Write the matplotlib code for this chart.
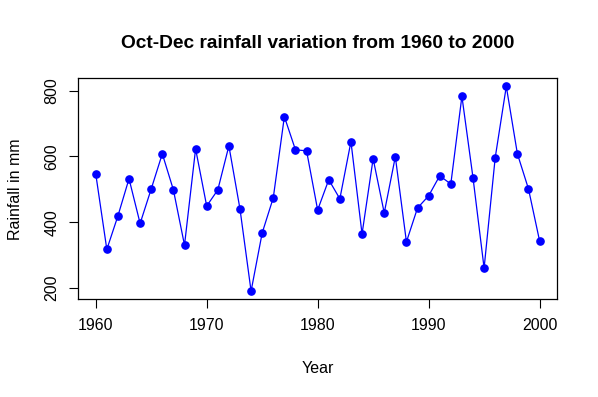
import matplotlib
matplotlib.use("Agg")
import matplotlib.pyplot as plt
import numpy as np

# Oct-Dec rainfall (mm)
years = np.arange(1960, 2001)
rainfall = [
    547, 317, 419, 532, 396, 501, 608, 498, 330, 623,
    449, 498, 632, 440, 190, 367, 474, 721, 620, 617,
    437, 529, 471, 645, 364, 593, 428, 599, 340, 443,
    480, 541, 516, 783, 535, 260, 596, 813, 608, 501,
    343,
]
x_ticks = [1960, 1970, 1980, 1990, 2000]
y_ticks = [200, 400, 600, 800]

plt.rcParams["font.family"] = ["Liberation Sans", "DejaVu Sans"]

fig = plt.figure(figsize=(5.98, 3.97), dpi=100)
ax = fig.add_axes([0.1304, 0.246, 0.932 - 0.1304, 0.803 - 0.246])

ax.plot(years, rainfall, color="blue", linewidth=0.9,
        marker="o", markersize=5.2, markerfacecolor="blue",
        markeredgecolor="blue")

# R-style 4% padding around the data range
yr = max(rainfall) - min(rainfall)
ax.set_ylim(min(rainfall) - 0.04 * yr, max(rainfall) + 0.04 * yr)
ax.set_xlim(1960 - 0.04 * 40, 2000 + 0.04 * 40)

ax.set_xticks(x_ticks)
ax.set_yticks(y_ticks)
ax.set_yticklabels([str(v) for v in y_ticks], rotation=90, va="center")
ax.tick_params(direction="out", length=6.5, width=0.8, labelsize=11.5, pad=7)

for s in ax.spines.values():
    s.set_linewidth(0.9)

ax.set_title("Oct-Dec rainfall variation from 1960 to 2000",
             fontsize=13.8, fontweight="bold", pad=22)
ax.set_xlabel("Year", fontsize=11.5, labelpad=20)
ax.set_ylabel("Rainfall in mm", fontsize=11.5, labelpad=15)

fig.savefig("out.png", dpi=100)
